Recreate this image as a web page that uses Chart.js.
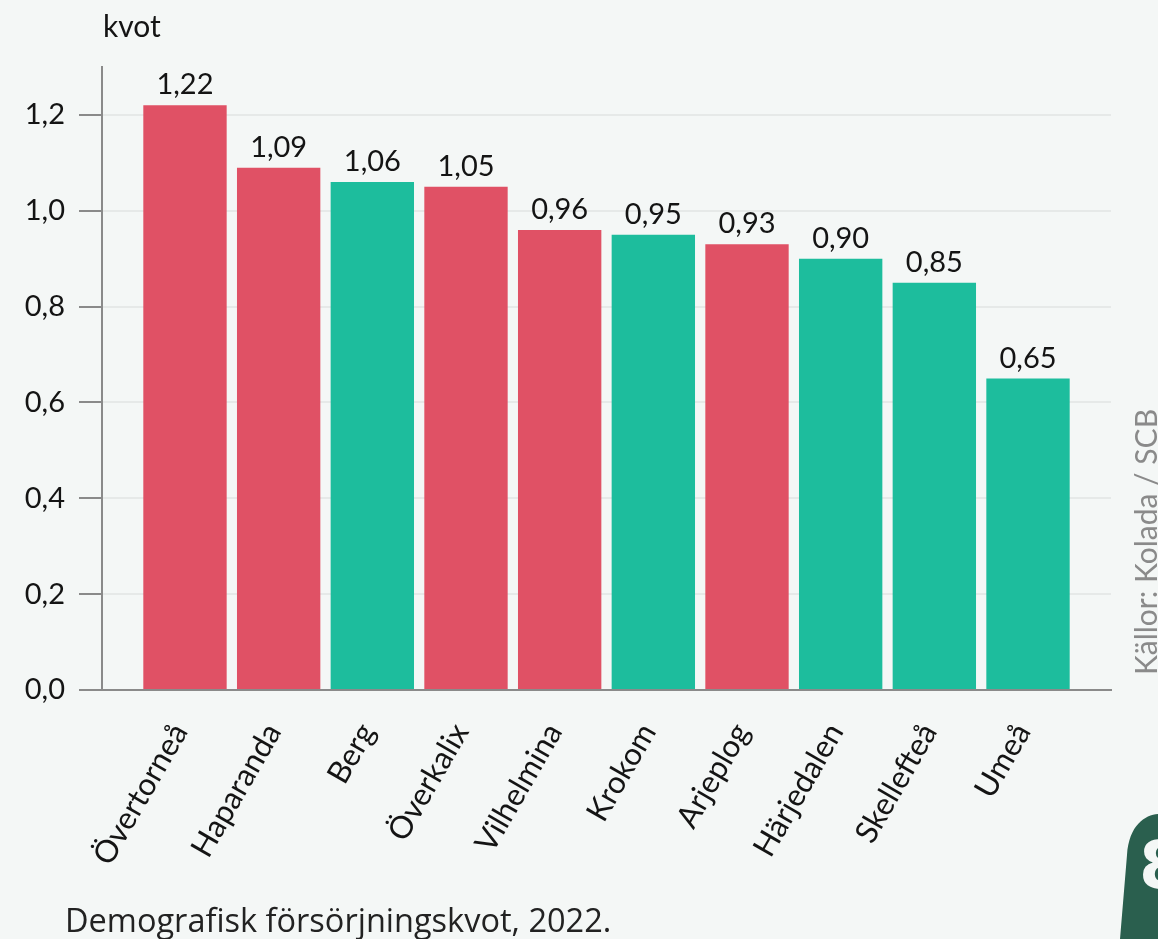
<!DOCTYPE html>
<html>
<head>
<meta charset="utf-8">
<script src="https://cdn.jsdelivr.net/npm/chart.js@4.4.1/dist/chart.umd.min.js"></script>
<style>
  html, body { margin: 0; padding: 0; background: #f4f7f6; }
  #wrap { width: 1158px; height: 939px; position: relative; }
</style>
</head>
<body>
<div id="wrap"><canvas id="c" width="1158" height="939"></canvas></div>
<script>
// Municipalities, dependency ratio 2022, and colour group
const municipalities = ['Övertorneå', 'Haparanda', 'Berg', 'Överkalix', 'Vilhelmina', 'Krokom', 'Arjeplog', 'Härjedalen', 'Skellefteå', 'Umeå'];
const ratio = [1.22, 1.09, 1.06, 1.05, 0.96, 0.95, 0.93, 0.90, 0.85, 0.65];
const group = ['röd', 'röd', 'grön', 'röd', 'röd', 'grön', 'röd', 'grön', 'grön', 'grön'];
const yTicks = [0, 0.2, 0.4, 0.6, 0.8, 1.0, 1.2];
const unitLabel = 'kvot';
const caption = 'Demografisk försörjningskvot, 2022.';
const source = 'Källor: Kolada / SCB';

const groupColors = { 'röd': '#e05165', 'grön': '#1dbd9d' };
const labelFont = 'Lato, "DejaVu Sans", sans-serif';
const fmt = (v, d) => v.toFixed(d).replace('.', ',');

// Value labels above bars, unit label, caption, source and logo
const decorations = {
  id: 'decorations',
  afterDatasetsDraw(chart) {
    const ctx = chart.ctx;
    const meta = chart.getDatasetMeta(0);
    ctx.save();
    ctx.fillStyle = '#141414';
    ctx.font = '29px ' + labelFont;
    ctx.textAlign = 'center';
    ctx.textBaseline = 'alphabetic';
    meta.data.forEach((el, i) => {
      ctx.fillText(fmt(ratio[i], 2), el.x, el.y - 11);
    });
    ctx.restore();
  },
  afterDraw(chart) {
    const ctx = chart.ctx;
    const area = chart.chartArea;
    ctx.save();
    // unit label
    ctx.fillStyle = '#141414';
    ctx.font = '30px ' + labelFont;
    ctx.textAlign = 'left';
    ctx.textBaseline = 'alphabetic';
    ctx.fillText(unitLabel, area.left + 1, 37);

    // caption
    ctx.fillStyle = '#222222';
    ctx.font = '32.5px "Open Sans", sans-serif';
    ctx.fillText(caption, 65, 932);

    // source, vertical
    ctx.save();
    ctx.translate(1157, 675);
    ctx.rotate(-Math.PI / 2);
    ctx.fillStyle = '#8a8a8a';
    ctx.font = '30px ' + labelFont;
    ctx.textAlign = 'left';
    ctx.fillText(source, 0, 0);
    ctx.restore();

    // logo corner
    ctx.fillStyle = '#2a5f4e';
    ctx.beginPath();
    ctx.moveTo(1120, 939);
    ctx.lineTo(1127, 855);
    ctx.bezierCurveTo(1129, 825, 1145, 815, 1158, 814);
    ctx.lineTo(1158, 939);
    ctx.closePath();
    ctx.fill();
    ctx.fillStyle = '#f4f7f6';
    ctx.font = 'bold 66px "DejaVu Sans", sans-serif';
    ctx.textAlign = 'left';
    ctx.fillText('8', 1139, 888);
    ctx.restore();
  }
};

new Chart(document.getElementById('c'), {
  type: 'bar',
  data: {
    datasets: [{
      data: ratio.map((v, i) => ({ x: i, y: v })),
      backgroundColor: group.map(g => groupColors[g]),
      borderWidth: 0,
      barPercentage: 0.89,
      categoryPercentage: 1.0
    }]
  },
  options: {
    responsive: false,
    animation: false,
    devicePixelRatio: 1,
    layout: { padding: { top: 67, right: 47, left: 0, bottom: 0 } },
    plugins: {
      legend: { display: false },
      tooltip: { enabled: false }
    },
    scales: {
      x: {
        type: 'linear',
        offset: false,
        min: -0.886,
        max: 9.886,
        afterBuildTicks: s => { s.ticks = municipalities.map((_, i) => ({ value: i })); },
        afterFit: s => { s.height = 939 - 690; s.paddingLeft = 0; s.paddingRight = 0; },
        grid: { display: false },
        border: { display: true, color: '#8a8a8a', width: 2 },
        ticks: {
          autoSkip: false,
          minRotation: 60,
          maxRotation: 60,
          padding: 19,
          labelOffset: -5,
          color: '#141414',
          font: { family: labelFont, size: 31 },
          callback: v => municipalities[v] ?? ''
        }
      },
      y: {
        min: 0,
        max: 1.3,
        afterBuildTicks: s => { s.ticks = yTicks.map(v => ({ value: v })); },
        afterFit: s => { s.width = 102; s.paddingTop = 0; s.paddingBottom = 0; },
        grid: {
          color: c => (c.tick && c.tick.value === 0) ? '#8a8a8a' : '#e6e9e8',
          lineWidth: 2,
          tickLength: 23,
          tickColor: '#8a8a8a',
          tickWidth: 2
        },
        border: { display: true, color: '#8a8a8a', width: 2 },
        ticks: {
          padding: 14,
          color: '#141414',
          font: { family: labelFont, size: 29 },
          callback: v => fmt(v, 1)
        }
      }
    }
  },
  plugins: [decorations]
});
</script>
</body>
</html>
